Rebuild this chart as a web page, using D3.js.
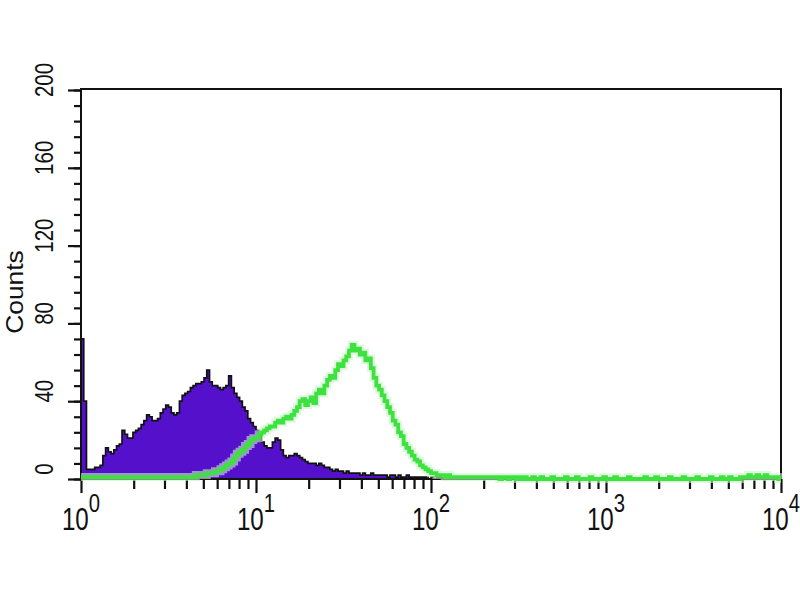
<!DOCTYPE html>
<html>
<head>
<meta charset="utf-8">
<script src="https://cdn.jsdelivr.net/npm/d3@7"></script>
<style>
  body { margin: 0; background: #fff; }
  text { font-family: "Liberation Sans", Arial, sans-serif; fill: #111; }
</style>
</head>
<body>
<script>
// 256 log channels over four decades (10^0 .. 10^4)
const channels = 256;

// isotype control, filled purple (counts per channel)
const purpleCounts = [
  72,40,5,5,5,6,6,7,12,16,14,13,15,17,18,25,
  23,21,21,24,25,26,28,30,33,32,30,30,31,34,36,38,
  37,34,33,34,40,43,44,45,47,48,49,49,50,52,56,50,
  48,48,47,46,47,48,53,47,44,42,40,37,35,31,29,27,
  25,22,19,17,16,16,19,21,20,15,12,11,12,12,13,12,
  11,10,9,8,8,8,7,8,7,6,6,5,4,5,4,4,
  3,4,3,3,3,3,2,3,2,2,3,2,2,2,2,2,
  1,2,2,1,2,1,1,2,1,1,1,1,1,1,1,0,
  1,0,1,1,0,1,0,0,1,0,0,0,0,0,0,0,
  0,0,0,0,0,0,0,0,0,0,0,0,0,0,0,0,
  0,0,0,0,0,0,0,0,0,0,0,0,0,0,0,0,
  0,0,0,0,0,0,0,0,0,0,0,0,0,0,0,0,
  0,0,0,0,0,0,0,0,0,0,0,0,0,0,0,0,
  0,0,0,0,0,0,0,0,0,0,0,0,0,0,0,0,
  0,0,0,0,0,0,0,0,0,0,0,0,0,0,0,0,
  0,0,0,0,0,0,0,0,0,0,0,0,0,0,0,0
];

// stained sample, green outline
const greenCounts = [
  1,1,1,1,1,1,1,1,1,1,1,1,1,1,1,1,
  1,1,1,1,1,1,1,1,1,1,1,1,1,1,1,1,
  1,1,1,1,1,1,1,1,1,1,2,2,2,2,3,3,
  3,4,4,5,6,7,8,9,11,13,14,15,17,18,20,21,
  21,23,24,25,26,27,27,29,30,29,31,32,31,33,35,37,
  40,41,38,40,42,39,44,46,44,48,51,53,52,56,59,58,
  61,63,66,69,66,67,64,65,61,62,57,52,48,46,43,40,
  37,34,30,28,24,22,18,16,14,12,10,9,7,6,5,4,
  3,3,2,2,2,1,2,1,1,1,1,1,1,1,1,1,
  1,1,1,1,1,1,1,1,1,0,1,1,0,1,1,0,
  1,0,1,0,0,1,0,0,1,0,0,0,1,0,0,0,
  0,1,0,0,0,1,0,0,0,0,1,0,0,0,0,1,
  0,0,0,1,0,0,0,0,1,0,0,0,0,0,1,0,
  0,0,1,0,0,0,0,1,0,0,0,0,1,0,0,0,
  0,1,0,0,0,0,1,0,0,0,1,0,0,1,0,0,
  0,1,1,1,2,1,1,2,1,1,2,1,1,1,1,0
];

const yTickLabels = [0, 40, 80, 120, 160, 200];
const xDecades = [1, 10, 100, 1000, 10000];
const xExponents = ["0", "1", "2", "3", "4"];
const yLabel = "Counts";

const width = 800, height = 600;
const svg = d3.select("body").append("svg")
  .attr("width", width)
  .attr("height", height);

svg.append("rect").attr("width", width).attr("height", height).attr("fill", "#fff");

const x = d3.scaleLog().domain([1, 1e4]).range([81, 781]);
const y = d3.scaleLinear().domain([0, 200]).range([479, 90]);

// channel left edge in data units
const edge = i => Math.pow(10, 4 * i / channels);

function stepPoints(counts) {
  const pts = counts.map((c, i) => [edge(i), c]);
  pts.push([edge(counts.length), counts[counts.length - 1]]);
  return pts;
}

const area = d3.area()
  .curve(d3.curveStepAfter)
  .x(d => x(d[0]))
  .y0(y(0))
  .y1(d => y(d[1]));

const line = d3.line()
  .curve(d3.curveStepAfter)
  .x(d => x(d[0]))
  .y(d => y(d[1]));

const purplePts = stepPoints(purpleCounts);
svg.append("path")
  .attr("d", area(purplePts))
  .attr("fill", "#5510cc");
svg.append("path")
  .attr("d", line(purplePts))
  .attr("fill", "none")
  .attr("stroke", "#111")
  .attr("stroke-width", 1.7);

// axes: minor and major ticks
const yMinor = d3.range(0, 201, 8);
svg.append("g")
  .attr("transform", `translate(${x(1)},0)`)
  .call(d3.axisLeft(y).tickValues(yMinor).tickSize(7).tickFormat(""))
  .call(g => g.select(".domain").remove());
svg.append("g")
  .attr("transform", `translate(${x(1)},0)`)
  .call(d3.axisLeft(y).tickValues(yTickLabels).tickSize(13).tickFormat(""))
  .call(g => g.select(".domain").remove());

const xMinor = [];
xDecades.slice(0, -1).forEach(d => { for (let k = 2; k < 10; k++) xMinor.push(d * k); });
svg.append("g")
  .attr("transform", `translate(0,${y(0)})`)
  .call(d3.axisBottom(x).tickValues(xMinor).tickSize(10).tickFormat(""))
  .call(g => g.select(".domain").remove());
svg.append("g")
  .attr("transform", `translate(0,${y(0)})`)
  .call(d3.axisBottom(x).tickValues(xDecades).tickSize(14).tickFormat(""))
  .call(g => g.select(".domain").remove());

svg.selectAll(".tick line").attr("stroke", "#111").attr("stroke-width", 2.2);

// frame
svg.append("rect")
  .attr("x", x(1)).attr("y", 89)
  .attr("width", x(1e4) - x(1)).attr("height", y(0) - 89)
  .attr("fill", "none")
  .attr("stroke", "#111")
  .attr("stroke-width", 2);

// green histogram on top
const greenPts = stepPoints(greenCounts);
svg.append("path")
  .attr("d", line(greenPts))
  .attr("fill", "none")
  .attr("stroke", "#c9f3c9")
  .attr("stroke-width", 8)
  .attr("opacity", 0.6);
svg.append("path")
  .attr("d", line(greenPts))
  .attr("fill", "none")
  .attr("stroke", "#3ee23e")
  .attr("stroke-width", 3.8);

// y tick labels (rotated)
svg.selectAll(".ylab")
  .data(yTickLabels)
  .enter().append("text")
  .attr("class", "ylab")
  .attr("transform", d => `translate(53,${y(d) - 10}) rotate(-90) scale(0.82,1)`)
  .attr("text-anchor", "middle")
  .attr("font-size", 25)
  .text(d => d);

svg.append("text")
  .attr("transform", `translate(23,292) rotate(-90) scale(1.1,1)`)
  .attr("text-anchor", "middle")
  .attr("font-size", 24)
  .text(yLabel);

// x tick labels 10^n
const xl = svg.selectAll(".xlab")
  .data(xDecades)
  .enter().append("text")
  .attr("class", "xlab")
  .attr("transform", d => `translate(${x(d)},530) scale(0.78,1)`)
  .attr("text-anchor", "middle");
xl.append("tspan").attr("font-size", 31).text("10");
xl.append("tspan").attr("font-size", 26).attr("dy", -18).text((d, i) => xExponents[i]);
</script>
</body>
</html>
